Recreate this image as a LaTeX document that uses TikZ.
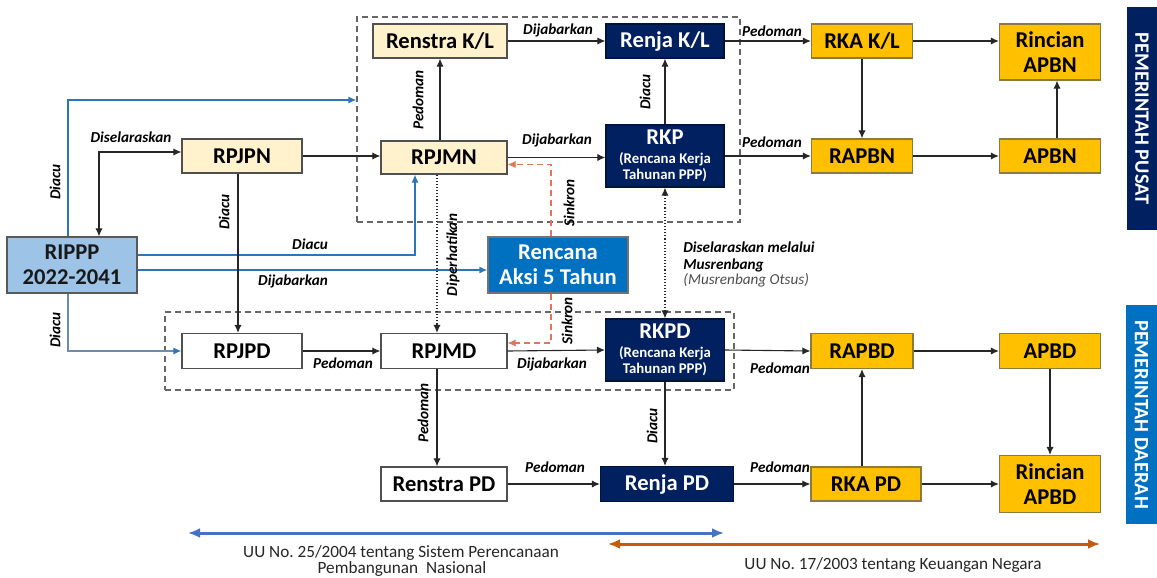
\documentclass[tikz,border=0pt]{standalone}
\usepackage{fontspec}
\setmainfont{Carlito}
\usetikzlibrary{arrows.meta}
\definecolor{cream}{HTML}{FFF2CC}
\definecolor{navy}{HTML}{002060}
\definecolor{amber}{HTML}{FFC000}
\definecolor{lightblue}{HTML}{9DC3E6}
\definecolor{midblue}{HTML}{0070C0}
\definecolor{lineblue}{HTML}{2E75B6}
\definecolor{grayblue}{HTML}{6A8CB0}
\definecolor{sinkron}{HTML}{E0755A}
\definecolor{boxgray}{HTML}{505050}
\definecolor{ambergray}{HTML}{8C7A40}
\definecolor{uublue}{HTML}{4472C4}
\definecolor{uuorange}{HTML}{C55A11}
\newcommand{\smallsub}{\fontsize{7.4}{8.4}\selectfont}
\frenchspacing
\tikzset{
  base/.style={rectangle, inner sep=0pt, align=center, line width=0.6pt,
    font=\bfseries\fontsize{11.3}{12.5}\selectfont},
  creambox/.style={base, fill=cream, draw=boxgray},
  navybox/.style={base, fill=navy, draw=navy!60!black, text=white},
  amberbox/.style={base, fill=amber, draw=ambergray},
  whitebox/.style={base, fill=white, draw=boxgray},
  lbl/.style={font=\bfseries\itshape\fontsize{7.6}{8.5}\selectfont, inner sep=0pt},
  conn/.style={-{Latex[length=4pt,width=3.6pt]}, line width=0.55pt, draw=black!85},
  blueconn/.style={conn, draw=lineblue, line width=0.7pt},
  grp/.style={rectangle, draw=black!60, dashed, line width=0.6pt, dash pattern=on 3pt off 2pt},
  band/.style={rectangle, inner sep=0pt, text=white, font=\bfseries\fontsize{10.2}{11}\selectfont},
  uutext/.style={font=\fontsize{8.6}{8}\selectfont, inner sep=0pt, text=black!85},
}
\begin{document}
\begin{tikzpicture}[x=0.5pt, y=-0.5pt]
\useasboundingbox (0,0) rectangle (1157,578);
% groups
\node[grp, minimum width=191.5pt, minimum height=102.5pt] (topgrp) at (548.5,119.5) {};
\node[grp, minimum width=284.5pt, minimum height=39pt] (botgrp) at (449.5,351) {};
% top row
\node[creambox, minimum width=67pt, minimum height=17pt] (renstrakl) at (440,41) {Renstra K/L};
\node[navybox, minimum width=59pt, minimum height=17pt] (renjakl) at (665,41) {Renja K/L};
\node[amberbox, minimum width=50.5pt, minimum height=17pt] (rkakl) at (862,41) {RKA K/L};
\node[amberbox, minimum width=50.5pt, minimum height=28pt] (rincianapbn) at (1050,52) {Rincian\\APBN};
% second row
\node[creambox, minimum width=60pt, minimum height=17pt] (rpjpn) at (242,156) {RPJPN};
\node[creambox, minimum width=63pt, minimum height=16.5pt] (rpjmn) at (444,157.5) {RPJMN};
\node[navybox, minimum width=59pt, minimum height=31pt] (rkp) at (665,156) {RKP\\[-3pt]{\smallsub(Rencana Kerja}\\[-4.5pt]{\smallsub Tahunan PPP)}};
\node[amberbox, minimum width=50.5pt, minimum height=17pt] (rapbn) at (862,156) {RAPBN};
\node[amberbox, minimum width=50.5pt, minimum height=17pt] (apbn) at (1050,156) {APBN};
% middle
\node[base, fill=lightblue, draw=black!65, text=black!90, minimum width=65pt, minimum height=28pt] (rippp) at (72,265) {RIPPP\\2022-2041};
\node[base, fill=midblue, draw=black!55, text=white, minimum width=70pt, minimum height=28pt] (aksi) at (558,265) {Rencana\\Aksi 5 Tahun};
% fourth row
\node[whitebox, minimum width=60pt, minimum height=17.5pt] (rpjpd) at (242,351) {RPJPD};
\node[whitebox, minimum width=63pt, minimum height=17.5pt] (rpjmd) at (444,351) {RPJMD};
\node[navybox, minimum width=59.5pt, minimum height=31pt] (rkpd) at (665,350) {RKPD\\[-3pt]{\smallsub(Rencana Kerja}\\[-4.5pt]{\smallsub Tahunan PPP)}};
\node[amberbox, minimum width=51pt, minimum height=17.5pt] (rapbd) at (862,351) {RAPBD};
\node[amberbox, minimum width=50.5pt, minimum height=17.5pt] (apbd) at (1050,351) {APBD};
% bottom row
\node[whitebox, minimum width=63pt, minimum height=17pt] (renstrapd) at (444,484) {Renstra PD};
\node[navybox, minimum width=66.5pt, minimum height=17.5pt] (renjapd) at (667,484) {Renja PD};
\node[amberbox, minimum width=55pt, minimum height=17pt] (rkapd) at (866,484) {RKA PD};
\node[amberbox, minimum width=50.5pt, minimum height=28.5pt] (rincianapbd) at (1050,484) {Rincian\\APBD};
% side bands
\node[band, fill=navy, minimum width=15pt, minimum height=111.5pt] (pusat) at (1142,118.5) {};
\node[band, rotate=-90] (pusatlbl) at (pusat.center) {PEMERINTAH PUSAT};
\node[band, fill=midblue, minimum width=15.5pt, minimum height=109.5pt] (daerah) at (1141.5,414.5) {};
\node[band, rotate=-90] (daerahlbl) at (daerah.center) {PEMERINTAH DAERAH};
% helper coordinates
\coordinate (yA) at (0,100);
\coordinate (uuAl) at (188,533);
\coordinate (uuAr) at (724,533);
\coordinate (uuBl) at (608,544);
\coordinate (uuBr) at (1100,544);
% blue connectors from RIPPP
\draw[blueconn] ([xshift=-2pt]rippp.north) |- (topgrp.west |- yA);
\draw[blueconn] ([yshift=5pt]rippp.east) -| ([xshift=-14.5pt]rpjmn.south);
\draw[blueconn, line width=1.1pt] ([yshift=-2.5pt]rippp.east) -- ([yshift=-2.5pt]aksi.west);
\draw[conn, draw=grayblue, line width=0.7pt, -{Latex[length=4pt,width=3.6pt,color=lineblue]}] ([xshift=-2pt]rippp.south) |- (rpjpd.west);
\draw[conn, {Latex[length=4pt,width=3.6pt]}-{Latex[length=4pt,width=3.6pt]}] ([yshift=2pt]rpjpn.west) -| ([xshift=13.5pt]rippp.north);
% black connectors
\draw[conn] (rpjpn.east) -- (rpjpn.east -| rpjmn.west);
\draw[conn] ([xshift=-2pt]rpjpn.south) -- ([xshift=-2pt]rpjpd.north);
\draw[conn] (rpjmn.north -| renstrakl.south) -- (renstrakl.south);
\draw[conn] (renstrakl.east) -- (renjakl.west);
\draw[conn] (rpjmn.east) -- (rpjmn.east -| rkp.west);
\draw[conn] (rkp.north) -- (renjakl.south);
\draw[conn] (renjakl.east) -- (rkakl.west);
\draw[conn] (rkp.east) -- (rapbn.west);
\draw[conn] (rkakl.south) -- (rapbn.north);
\draw[conn] (rkakl.east) -- (rkakl.east -| rincianapbn.west);
\draw[conn] (rapbn.east) -- (apbn.west);
\draw[conn] ([xshift=3.5pt]apbn.north) -- ([xshift=3.5pt]rincianapbn.south);
\draw[conn, densely dotted] ([xshift=-3.5pt]rpjmn.south) -- ([xshift=-3.5pt]rpjmd.north);
\draw[conn, draw=sinkron, dashed, dash pattern=on 3pt off 2pt, -{Latex[length=4pt,width=3.6pt,color=sinkron]}] ([xshift=-3.5pt]aksi.north) |- ([yshift=-3.5pt]rpjmn.east);
\draw[conn, draw=sinkron, dashed, dash pattern=on 3pt off 2pt, -{Latex[length=4pt,width=3.6pt,color=sinkron]}] ([xshift=-3.5pt]aksi.south) |- ([yshift=4pt]rpjmd.east);
\draw[conn, densely dotted, {Latex[length=4pt,width=3.6pt]}-{Latex[length=4pt,width=3.6pt]}] (rkp.south) -- (rkpd.north);
\draw[conn] (rpjpd.east) -- (rpjmd.west);
\draw[conn] (rpjmd.east) -- (rkpd.west);
\draw[conn] (rkpd.east) -- (rapbd.west);
\draw[conn] ([xshift=-3.5pt]rpjmd.south) -- ([xshift=-3.5pt]renstrapd.north);
\draw[conn] (rkpd.south) -- (rkpd.south |- renjapd.north);
\draw[conn] (renstrapd.east) -- (renjapd.west);
\draw[conn] (renjapd.east) -- (rkapd.west);
\draw[conn] (rkapd.north -| rapbd.south) -- (rapbd.south);
\draw[conn] (rapbd.east) -- (apbd.west);
\draw[conn] (apbd.south) -- (rincianapbd.north);
\draw[conn] (rkapd.east) -- (rincianapbd.west);
% bottom law arrows
\draw[draw=uublue, line width=1.5pt, {Latex[length=6pt,width=5pt]}-{Latex[length=6pt,width=5pt]}] (uuAl) -- (uuAr);
\draw[draw=uuorange, line width=1.5pt, {Latex[length=6pt,width=5pt]}-{Latex[length=6pt,width=5pt]}] (uuBl) -- (uuBr);
\node[uutext] (uuA1) at (401,553) {UU No. 25/2004 tentang Sistem Perencanaan};
\node[uutext] (uuA2) at (402,569) {Pembangunan\ \ Nasional};
\node[uutext] (uuB) at (893,565) {UU No. 17/2003 tentang Keuangan Negara};
% labels
\node[lbl, rotate=90] (l1) at (55,182) {Diacu};
\node[lbl] (l2) at (131,137) {Diselaraskan};
\node[lbl, rotate=90] (l3) at (224,212) {Diacu};
\node[lbl] (l4) at (310,244) {Diacu};
\node[lbl] (l5) at (293,281) {Dijabarkan};
\node[lbl, rotate=90] (l6) at (55,330) {Diacu};
\node[lbl, rotate=90] (l7) at (418,100) {Pedoman};
\node[lbl] (l8) at (558,30) {Dijabarkan};
\node[lbl] (l9) at (557,140) {Dijabarkan};
\node[lbl, rotate=90] (l10) at (645,92) {Diacu};
\node[lbl, rotate=90] (l11) at (569,203) {Sinkron};
\node[lbl, rotate=90] (l12) at (453,255) {Diperhatikan};
\node[lbl, rotate=90] (l13) at (567,321) {Sinkron};
\node[lbl] (l14) at (772,31) {Pedoman};
\node[lbl] (l15) at (772,142) {Pedoman};
\node[lbl, anchor=north west, align=left] (l16) at (683,241) {Diselaraskan melalui\\Musrenbang\\[-1pt]{\mdseries\color{black!70}(Musrenbang Otsus)}};
\node[lbl] (l17) at (343,363) {Pedoman};
\node[lbl] (l18) at (552,364) {Dijabarkan};
\node[lbl, rotate=90] (l19) at (423,413) {Pedoman};
\node[lbl, rotate=90] (l20) at (652,426) {Diacu};
\node[lbl] (l21) at (780,368) {Pedoman};
\node[lbl] (l22) at (555,467) {Pedoman};
\node[lbl] (l23) at (780,467) {Pedoman};
\end{tikzpicture}
\end{document}
